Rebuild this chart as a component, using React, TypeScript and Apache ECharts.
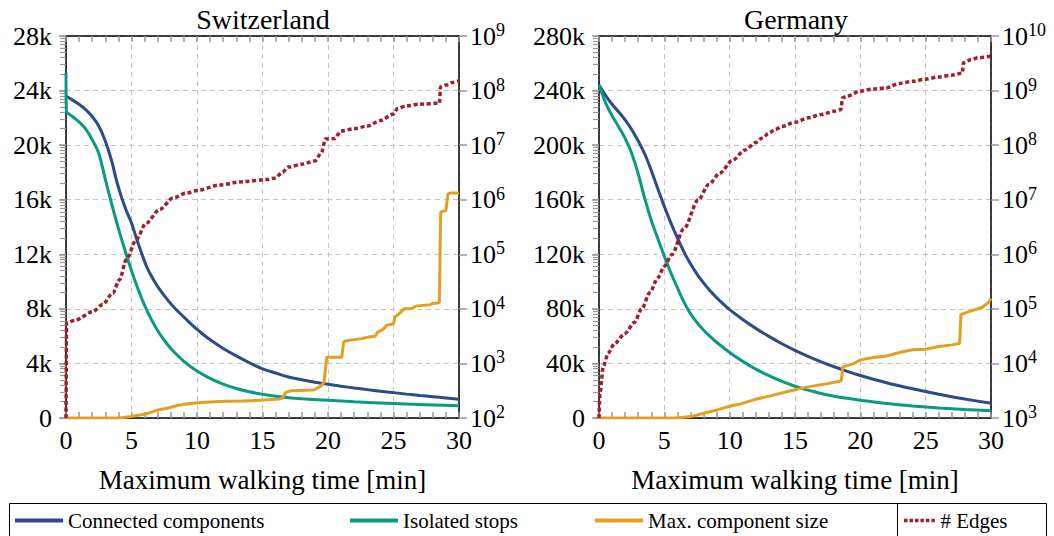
import React, { useEffect, useRef } from "react";
import * as echarts from "echarts";

const FONT = "Liberation Serif";
const C_BLUE = "#2f4a88";
const C_TEAL = "#0a9a80";
const C_ORANGE = "#e3a020";
const C_RED = "#a11e2c";

const SERIES_NAMES = ["Connected components", "Isolated stops", "Max. component size", "# Edges"];
const PANEL_TITLES = ["Switzerland", "Germany"];
const X_NAME = "Maximum walking time [min]";

// ---------- Switzerland ----------
const chConnX = [0, 0.5, 1, 1.5, 2, 2.5, 3, 3.5, 3.83, 4.2, 4.6, 5, 5.4, 5.8, 6.2, 6.7, 7.2, 7.8, 8.4, 9, 9.7, 10.5, 11.2, 12, 13, 14, 15, 16, 17, 18, 19, 20, 21, 22, 23, 24, 25, 26, 27, 28, 29, 30];
const chConnY = [23600, 23300, 23000, 22600, 22100, 21400, 20300, 18800, 17500, 16300, 15200, 14300, 13100, 12000, 11000, 10100, 9350, 8600, 7950, 7400, 6750, 6100, 5600, 5100, 4550, 4050, 3600, 3300, 3000, 2800, 2620, 2480, 2330, 2200, 2080, 1960, 1860, 1750, 1650, 1560, 1470, 1380];

const chIsoX = [0, 0.03, 0.5, 1, 1.5, 2, 2.5, 3, 3.5, 4, 4.5, 5, 5.5, 6, 6.5, 7, 7.5, 8, 8.5, 9, 9.5, 10, 11, 12, 13, 14, 15, 16, 17, 18, 19, 20, 22, 24, 26, 28, 30];
const chIsoY = [25300, 22500, 22100, 21700, 21200, 20400, 19400, 17500, 15650, 13900, 12300, 10800, 9450, 8250, 7250, 6400, 5700, 5100, 4600, 4150, 3780, 3450, 2900, 2480, 2160, 1920, 1740, 1600, 1490, 1410, 1350, 1300, 1190, 1100, 1020, 960, 900];

const chMaxX = [0, 4.1, 5, 6.1, 6.6, 7.1, 7.9, 8.5, 9, 9.9, 11, 12.2, 13.5, 14.8, 16.3, 16.5, 16.8, 17.2, 18.9, 19.4, 19.7, 19.9, 21.05, 21.2, 21.6, 22.5, 23.2, 23.6, 23.8, 24.2, 24.5, 25, 25.1, 25.4, 25.8, 26.4, 26.7, 27.8, 28, 28.5, 28.6, 29, 29.15, 29.3, 30];
const chMaxY = [0, 0, 120, 290, 450, 610, 750, 920, 1000, 1100, 1170, 1220, 1250, 1300, 1400, 1450, 1900, 2000, 2050, 2300, 2600, 4450, 4450, 5600, 5700, 5800, 5950, 6000, 6300, 6500, 6800, 6900, 7400, 7600, 8000, 8000, 8200, 8300, 8400, 8450, 15100, 15200, 16400, 16500, 16500];

const chEdgeX = [0, 0.05, 0.77, 2.04, 2.8, 3.57, 4.08, 4.6, 5.36, 6.12, 7.14, 8.16, 9.18, 10.2, 11.7, 13.5, 15.3, 16, 16.5, 17, 18, 19, 19.5, 19.8, 20.5, 21, 22, 23, 24, 25, 25.3, 26, 27, 28.5, 28.6, 29, 29.5, 30];
const chEdgeY = [100, 5500, 6300, 8900, 12000, 19500, 34000, 79000, 186000, 372000, 660000, 1070000, 1320000, 1510000, 1860000, 2140000, 2340000, 2510000, 3160000, 3980000, 4470000, 5130000, 7240000, 12900000, 13200000, 18200000, 20000000, 22400000, 28200000, 37200000, 46800000, 52500000, 56200000, 58900000, 117000000, 126000000, 141000000, 151000000];

// ---------- Germany ----------
const deConnX = [0, 0.5, 1, 1.5, 2, 2.5, 3, 3.5, 4, 4.5, 5, 5.5, 6, 6.5, 7, 7.5, 8, 8.5, 9, 9.5, 10, 11, 12, 13, 14, 15, 16, 17, 18, 19, 20, 22, 24, 26, 28, 30];
const deConnY = [244000, 236500, 230000, 224500, 218500, 211500, 203000, 193500, 181500, 168000, 155000, 143000, 132000, 121800, 113000, 105500, 99000, 93300, 88200, 83600, 79400, 72200, 65700, 59800, 54450, 49600, 45200, 41200, 37550, 34200, 31150, 25850, 21450, 17450, 13950, 10750];

const deIsoX = [0, 0.3, 0.6, 1, 1.5, 2, 2.5, 3, 3.5, 4, 4.5, 5, 5.5, 6, 6.5, 7, 7.5, 8, 8.5, 9, 10, 11, 12, 13, 14, 15, 16, 17, 18, 19, 20, 22, 24, 26, 28, 30];
const deIsoY = [244000, 236000, 229000, 221500, 213500, 205000, 194000, 179000, 161000, 145000, 131500, 118500, 106500, 95500, 85000, 76500, 70000, 64500, 59800, 55500, 48000, 41500, 35800, 31000, 26800, 23300, 20400, 18000, 16000, 14400, 13000, 10600, 8800, 7400, 6300, 5400];

const deMaxX = [0, 6, 7.1, 8.1, 9.1, 10, 10.9, 11.9, 13.2, 14.5, 16, 17.5, 18.4, 18.55, 18.65, 19.5, 20, 21, 22, 23, 24, 25, 26, 27, 27.6, 27.7, 28.5, 29.3, 29.8, 30];
const deMaxY = [0, 0, 1200, 3700, 6100, 8600, 10500, 13500, 16400, 19600, 22800, 25200, 26900, 27500, 37500, 39900, 42600, 44300, 45500, 48000, 50000, 50400, 52400, 53600, 54600, 76000, 78500, 81000, 84600, 87600];

const deEdgeX = [0, 0.08, 0.33, 0.71, 1.2, 2, 2.7, 3.27, 3.9, 4.5, 5, 5.56, 6.5, 7.6, 8.4, 9.26, 10.2, 11.17, 12, 12.5, 13, 13.5, 14, 15, 16, 17, 18, 18.5, 18.65, 19, 20, 21, 22, 23, 24, 25, 26, 27, 27.8, 27.9, 28.5, 29, 30];
const deEdgeY = [1000, 2880, 8900, 15500, 23400, 35500, 56200, 100000, 200000, 372000, 603000, 977000, 2950000, 10000000, 19100000, 30900000, 52500000, 81300000, 112000000, 135000000, 166000000, 195000000, 219000000, 263000000, 316000000, 363000000, 417000000, 447000000, 741000000, 794000000, 977000000, 1070000000, 1120000000, 1350000000, 1480000000, 1620000000, 1780000000, 1910000000, 2090000000, 3240000000, 3720000000, 3980000000, 4270000000];

// axis ranges
const LEFT_MAX = [28000, 280000];
const LEFT_STEP = [4000, 40000];
const LOG_EXP = [[2, 9], [3, 10]];

const pairs = (xs: number[], ys: number[]) => xs.map((x, i) => [x, ys[i]]);

function decades(lo: number, hi: number) {
  const out: number[] = [];
  for (let e = lo; e <= hi; e++) out.push(Math.pow(10, e));
  return out;
}
function logMinor(lo: number, hi: number) {
  const out: number[] = [];
  for (let e = lo; e < hi; e++) for (let m = 1; m <= 9; m++) out.push(m * Math.pow(10, e));
  out.push(Math.pow(10, hi));
  return out;
}

const GRAY = "#999999";
const GRID_LINE = "#c4c4c4";
const baseText = { fontFamily: FONT, color: "#000" };

function buildAxes(gi: number) {
  const xBase = {
    type: "value",
    gridIndex: gi,
    min: 0,
    max: 30,
    interval: 5,
    axisLine: { show: true, onZero: false, lineStyle: { color: "#000", width: 1.5 } },
    axisTick: { show: true, inside: true, length: 6, lineStyle: { color: GRAY, width: 1.5 } },
    minorTick: { show: true, splitNumber: 5, length: 6, lineStyle: { color: GRAY, width: 1.5 } },
  };
  const xBottom = {
    ...xBase,
    position: "bottom",
    axisLabel: { ...baseText, fontSize: 26, margin: 9 },
    splitLine: { show: true, lineStyle: { color: GRID_LINE, type: [5, 4], width: 1 } },
    name: X_NAME,
    nameLocation: "middle",
    nameGap: 48,
    nameTextStyle: { ...baseText, fontSize: 27 },
  };
  const xTop = {
    ...xBase,
    position: "top",
    axisLabel: { show: false },
    splitLine: { show: false },
  };
  const [lo, hi] = LOG_EXP[gi];
  const yLeft = {
    type: "value",
    gridIndex: gi,
    position: "left",
    min: 0,
    max: LEFT_MAX[gi],
    interval: LEFT_STEP[gi],
    axisLine: { show: true, onZero: false, lineStyle: { color: "#000", width: 1.5 } },
    axisTick: { show: true, inside: false, length: 7, lineStyle: { color: GRAY, width: 1.5 } },
    axisLabel: {
      ...baseText,
      fontSize: 26,
      margin: 14,
      formatter: (v: number) => (v === 0 ? "0" : `${v / 1000}k`),
    },
    splitLine: { show: true, lineStyle: { color: GRID_LINE, type: [5, 4], width: 1 } },
  };
  const yRight = {
    type: "log",
    logBase: 10,
    gridIndex: gi,
    position: "right",
    min: Math.pow(10, lo),
    max: Math.pow(10, hi),
    axisLine: { show: true, onZero: false, lineStyle: { color: "#000", width: 1.5 } },
    axisTick: { show: true, inside: false, length: 8, customValues: decades(lo, hi), lineStyle: { color: GRAY, width: 1.5 } },
    axisLabel: {
      show: true,
      margin: 11,
      customValues: decades(lo, hi),
      formatter: (v: number) => `{b|10}{s|${Math.round(Math.log10(v))}}`,
      rich: {
        b: { ...baseText, fontSize: 26 },
        s: { ...baseText, fontSize: 18, padding: [0, 0, 12, 0] },
      },
    },
    splitLine: { show: false },
  };
  const yRightMinor = {
    type: "log",
    logBase: 10,
    gridIndex: gi,
    position: "right",
    min: Math.pow(10, lo),
    max: Math.pow(10, hi),
    axisLine: { show: false },
    axisTick: { show: true, inside: true, length: 6, customValues: logMinor(lo, hi), lineStyle: { color: GRAY, width: 1.2 } },
    axisLabel: { show: false },
    splitLine: { show: false },
  };
  return { x: [xBottom, xTop], y: [yLeft, yRight, yRightMinor] };
}

function lineSeries(name: string, color: string, data: number[][], xi: number, yi: number, opts: any = {}) {
  return {
    name,
    type: "line",
    xAxisIndex: xi,
    yAxisIndex: yi,
    data,
    showSymbol: false,
    symbol: "none",
    lineStyle: { color, width: 3 },
    itemStyle: { color },
    ...opts,
  };
}

const SMOOTH = { smooth: 0.3, smoothMonotone: "x" };
const SMOOTH_CURVE = { smooth: 0.3 };
const DOTTED = { type: [4, 2.6], width: 3.5 };

const LEGEND_LEFT = [15, 350, 595, 904];

export default function App() {
  const ref = useRef<HTMLDivElement>(null);
  useEffect(() => {
    if (!ref.current) return;
    const chart = echarts.init(ref.current, undefined, { renderer: "svg" });
    const a0 = buildAxes(0);
    const a1 = buildAxes(1);
    const series = [
      lineSeries(SERIES_NAMES[0], C_BLUE, pairs(chConnX, chConnY), 0, 0, SMOOTH_CURVE),
      lineSeries(SERIES_NAMES[1], C_TEAL, pairs(chIsoX, chIsoY), 0, 0, SMOOTH_CURVE),
      lineSeries(SERIES_NAMES[2], C_ORANGE, pairs(chMaxX, chMaxY), 0, 0),
      { ...lineSeries(SERIES_NAMES[3], C_RED, pairs(chEdgeX, chEdgeY), 0, 1, SMOOTH), lineStyle: { color: C_RED, ...DOTTED } },
      lineSeries(SERIES_NAMES[0], C_BLUE, pairs(deConnX, deConnY), 2, 3, SMOOTH_CURVE),
      lineSeries(SERIES_NAMES[1], C_TEAL, pairs(deIsoX, deIsoY), 2, 3, SMOOTH_CURVE),
      lineSeries(SERIES_NAMES[2], C_ORANGE, pairs(deMaxX, deMaxY), 2, 3),
      { ...lineSeries(SERIES_NAMES[3], C_RED, pairs(deEdgeX, deEdgeY), 2, 4, SMOOTH), lineStyle: { color: C_RED, ...DOTTED } },
    ];
    const legends = SERIES_NAMES.map((n, i) => ({
      data: [n],
      left: LEGEND_LEFT[i],
      top: 510,
      orient: "horizontal",
      padding: 0,
      itemWidth: i === 3 ? 32 : 48,
      itemHeight: i === 3 ? 3.5 : 4,
      itemGap: 0,
      selectedMode: false,
      icon:
        i === 3
          ? "path://M0 0h3.2v3.2h-3.2z M5 0h3.2v3.2h-3.2z M10 0h3.2v3.2h-3.2z M15 0h3.2v3.2h-3.2z M20 0h3.2v3.2h-3.2z M25 0h3.2v3.2h-3.2z"
          : "rect",
      textStyle: { ...baseText, fontSize: 21 },
    }));
    chart.setOption({
      animation: false,
      backgroundColor: "#fff",
      textStyle: { fontFamily: FONT },
      title: PANEL_TITLES.map((t, i) => ({
        text: t,
        left: i === 0 ? 258 : 791,
        top: 0,
        textAlign: "center",
        textStyle: { ...baseText, fontSize: 28, fontWeight: "normal" },
      })),
      grid: [
        { left: 66, top: 36, width: 393, height: 382, containLabel: false },
        { left: 599, top: 36, width: 392, height: 382, containLabel: false },
      ],
      xAxis: [...a0.x, ...a1.x],
      yAxis: [...a0.y, ...a1.y],
      legend: legends,
      series,
      graphic: [
        { type: "rect", silent: true, shape: { x: 9.5, y: 503.5, width: 1037, height: 40 }, style: { fill: "none", stroke: "#000", lineWidth: 1 } },
        { type: "line", silent: true, shape: { x1: 897.5, y1: 503.5, x2: 897.5, y2: 540 }, style: { stroke: "#000", lineWidth: 1 } },
      ],
    });
    return () => chart.dispose();
  }, []);
  return <div ref={ref} style={{ position: "absolute", left: 0, top: 0, width: 1054, height: 536 }} />;
}
